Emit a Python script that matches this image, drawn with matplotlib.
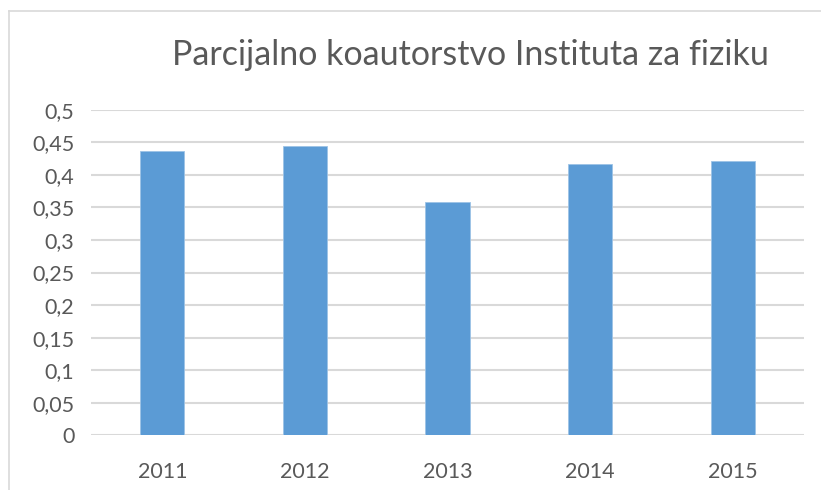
import matplotlib
matplotlib.use("Agg")
import matplotlib.pyplot as plt
from matplotlib.lines import Line2D

years = ["2011", "2012", "2013", "2014", "2015"]
values = [0.437, 0.445, 0.358, 0.417, 0.421]
ytick_values = [0, 0.05, 0.1, 0.15, 0.2, 0.25, 0.3, 0.35, 0.4, 0.45, 0.5]
ytick_labels = ["0", "0,05", "0,1", "0,15", "0,2", "0,25", "0,3", "0,35", "0,4", "0,45", "0,5"]
title = "Parcijalno koautorstvo Instituta za fiziku"

plt.rcParams['font.family'] = ['Lato', 'DejaVu Sans']
text_color = "#595959"
grid_color = "#d9d9d9"
bar_color = "#5b9bd5"

fig = plt.figure(figsize=(8.21, 4.90), dpi=100)
ax = fig.add_axes([91/821, 1-435.3/490, (804-91)/821, (435.3-109.7)/490])

x = range(len(years))
ax.bar(x, values, width=0.31, color=bar_color, edgecolor="#9dc3e6", linewidth=0.6, zorder=3)
ax.set_xlim(-0.5, len(years)-0.5)
ax.set_ylim(0, 0.5)
ax.set_yticks(ytick_values)
ax.set_yticklabels(ytick_labels)
ax.set_xticks(list(x))
ax.set_xticklabels(years)
ax.grid(axis='y', color=grid_color, linewidth=1.5, zorder=0)
ax.set_axisbelow(True)
for s in ax.spines.values():
    s.set_visible(False)
ax.tick_params(axis='both', length=0, labelsize=15.5, colors=text_color)
ax.tick_params(axis='y', pad=12)
ax.tick_params(axis='x', pad=19)

fig.text(470/821, 1-55/490, title, ha='center', va='center', fontsize=24.5, color=text_color)

# chart border (top and left)
fig.add_artist(Line2D([9/821, 9/821], [0, 1-11/490], transform=fig.transFigure, color=grid_color, linewidth=1.2))
fig.add_artist(Line2D([9/821, 1], [1-11/490, 1-11/490], transform=fig.transFigure, color=grid_color, linewidth=1.2))

fig.savefig("out.png", dpi=100)
